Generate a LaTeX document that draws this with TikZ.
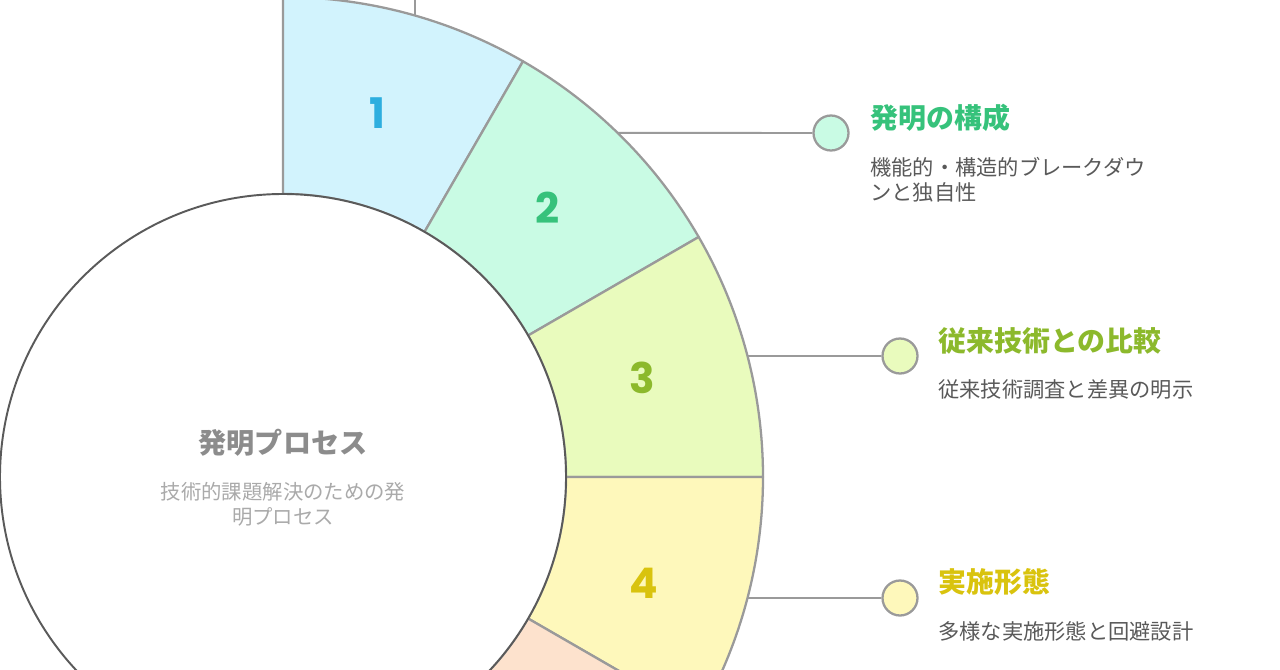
\documentclass[tikz,border=0pt]{standalone}
\usepackage{fontspec}
\setmainfont{Noto Sans CJK JP}
\newfontfamily\numfont{Poppins}
\usetikzlibrary{positioning}
\definecolor{segline}{HTML}{9A9A9A}
\definecolor{hubline}{HTML}{5A5A5A}
\definecolor{fillA}{HTML}{D2F3FD}
\definecolor{fillB}{HTML}{C9FBE4}
\definecolor{fillC}{HTML}{E9FBBD}
\definecolor{fillD}{HTML}{FEF8BB}
\definecolor{fillE}{HTML}{FDE2CD}
\definecolor{inkA}{HTML}{2DAEDF}
\definecolor{inkB}{HTML}{36C27B}
\definecolor{inkC}{HTML}{8CB92C}
\definecolor{inkD}{HTML}{D9C30E}
\definecolor{hubtitle}{HTML}{8C8C8C}
\definecolor{hubtext}{HTML}{AAAAAA}
\definecolor{desctext}{HTML}{595959}

\begin{document}
\begin{tikzpicture}[
    seg/.style={draw=segline, line width=1.3pt, line join=round},
    num/.style={font=\numfont\bfseries\fontsize{24}{24}\selectfont},
    link/.style={draw=segline, line width=1.1pt},
    marker/.style={circle, draw=segline, line width=1.3pt, minimum size=0.7cm, inner sep=0pt},
    title/.style={anchor=west, inner sep=0pt, font=\bfseries\fontsize{15.9}{18}\selectfont},
    desc/.style={anchor=north west, inner sep=0pt, align=left, text=desctext, font=\fontsize{12.1}{14}\selectfont}
]
\useasboundingbox (0,0) rectangle (25.6,13.38);
\clip (0,0) rectangle (25.6,13.38);

\coordinate (c) at (5.66,3.84);

% ring segments
\begin{scope}[shift={(c)}]
\foreach \a/\b/\col in {90/60/fillA, 60/30/fillB, 30/0/fillC, 0/-30/fillD, -30/-60/fillE}
  \draw[seg, fill=\col] (\a:5.66) -- (\a:9.6) arc[start angle=\a, end angle=\b, radius=9.6]
    -- (\b:5.66) arc[start angle=\b, end angle=\a, radius=5.66] -- cycle;

\node[num, text=inkA] (n1) at (75.5:7.52) {1};
\node[num, text=inkB] (n2) at (45.5:7.55) {2};
\node[num, text=inkC] (n3) at (15.4:7.46) {3};
\node[num, text=inkD] (n4) at (-16.5:7.52) {4};

\coordinate (s1) at (74:9.6);
\coordinate (s2) at (45.8:9.6);
\coordinate (s3) at (14.6:9.6);
\coordinate (s4) at (-14.6:9.6);
\end{scope}

% hub
\node[circle, draw=hubline, line width=1.1pt, fill=white, minimum size=11.32cm, inner sep=0pt] (hub) at (c) {};
\node[font=\bfseries\fontsize{16}{18}\selectfont, text=hubtitle] (hubT) at (5.66,4.52) {発明プロセス};
\node[font=\fontsize{11.6}{14}\selectfont, text=hubtext, align=center] (hubD) at (5.66,3.29) {技術的課題解決のための発\\明プロセス};

% step 1 (label outside the picture)
\coordinate (e1) at (s1 |- 0,13.6);
\draw[link] (s1) -- (e1);

% step 2
\node[marker, fill=fillB] (m2) at (16.62,10.72) {};
\draw[link] (s2) -- (m2);
\node[title, text=inkB] (t2) at (17.4,11.02) {発明の構成};
\node[desc, below=0.5cm of t2.south west, anchor=north west] (d2) {機能的・構造的ブレークダウ\\ンと独自性};

% step 3
\node[marker, fill=fillC] (m3) at (18.0,6.26) {};
\draw[link] (s3) -- (m3);
\node[title, text=inkC] (t3) at (18.76,6.56) {従来技術との比較};
\node[desc, below=0.5cm of t3.south west, anchor=north west] (d3) {従来技術調査と差異の明示};

% step 4
\node[marker, fill=fillD] (m4) at (18.0,1.42) {};
\draw[link] (s4) -- (m4);
\node[title, text=inkD] (t4) at (18.76,1.74) {実施形態};
\node[desc, below=0.5cm of t4.south west, anchor=north west] (d4) {多様な実施形態と回避設計};

\end{tikzpicture}
\end{document}
